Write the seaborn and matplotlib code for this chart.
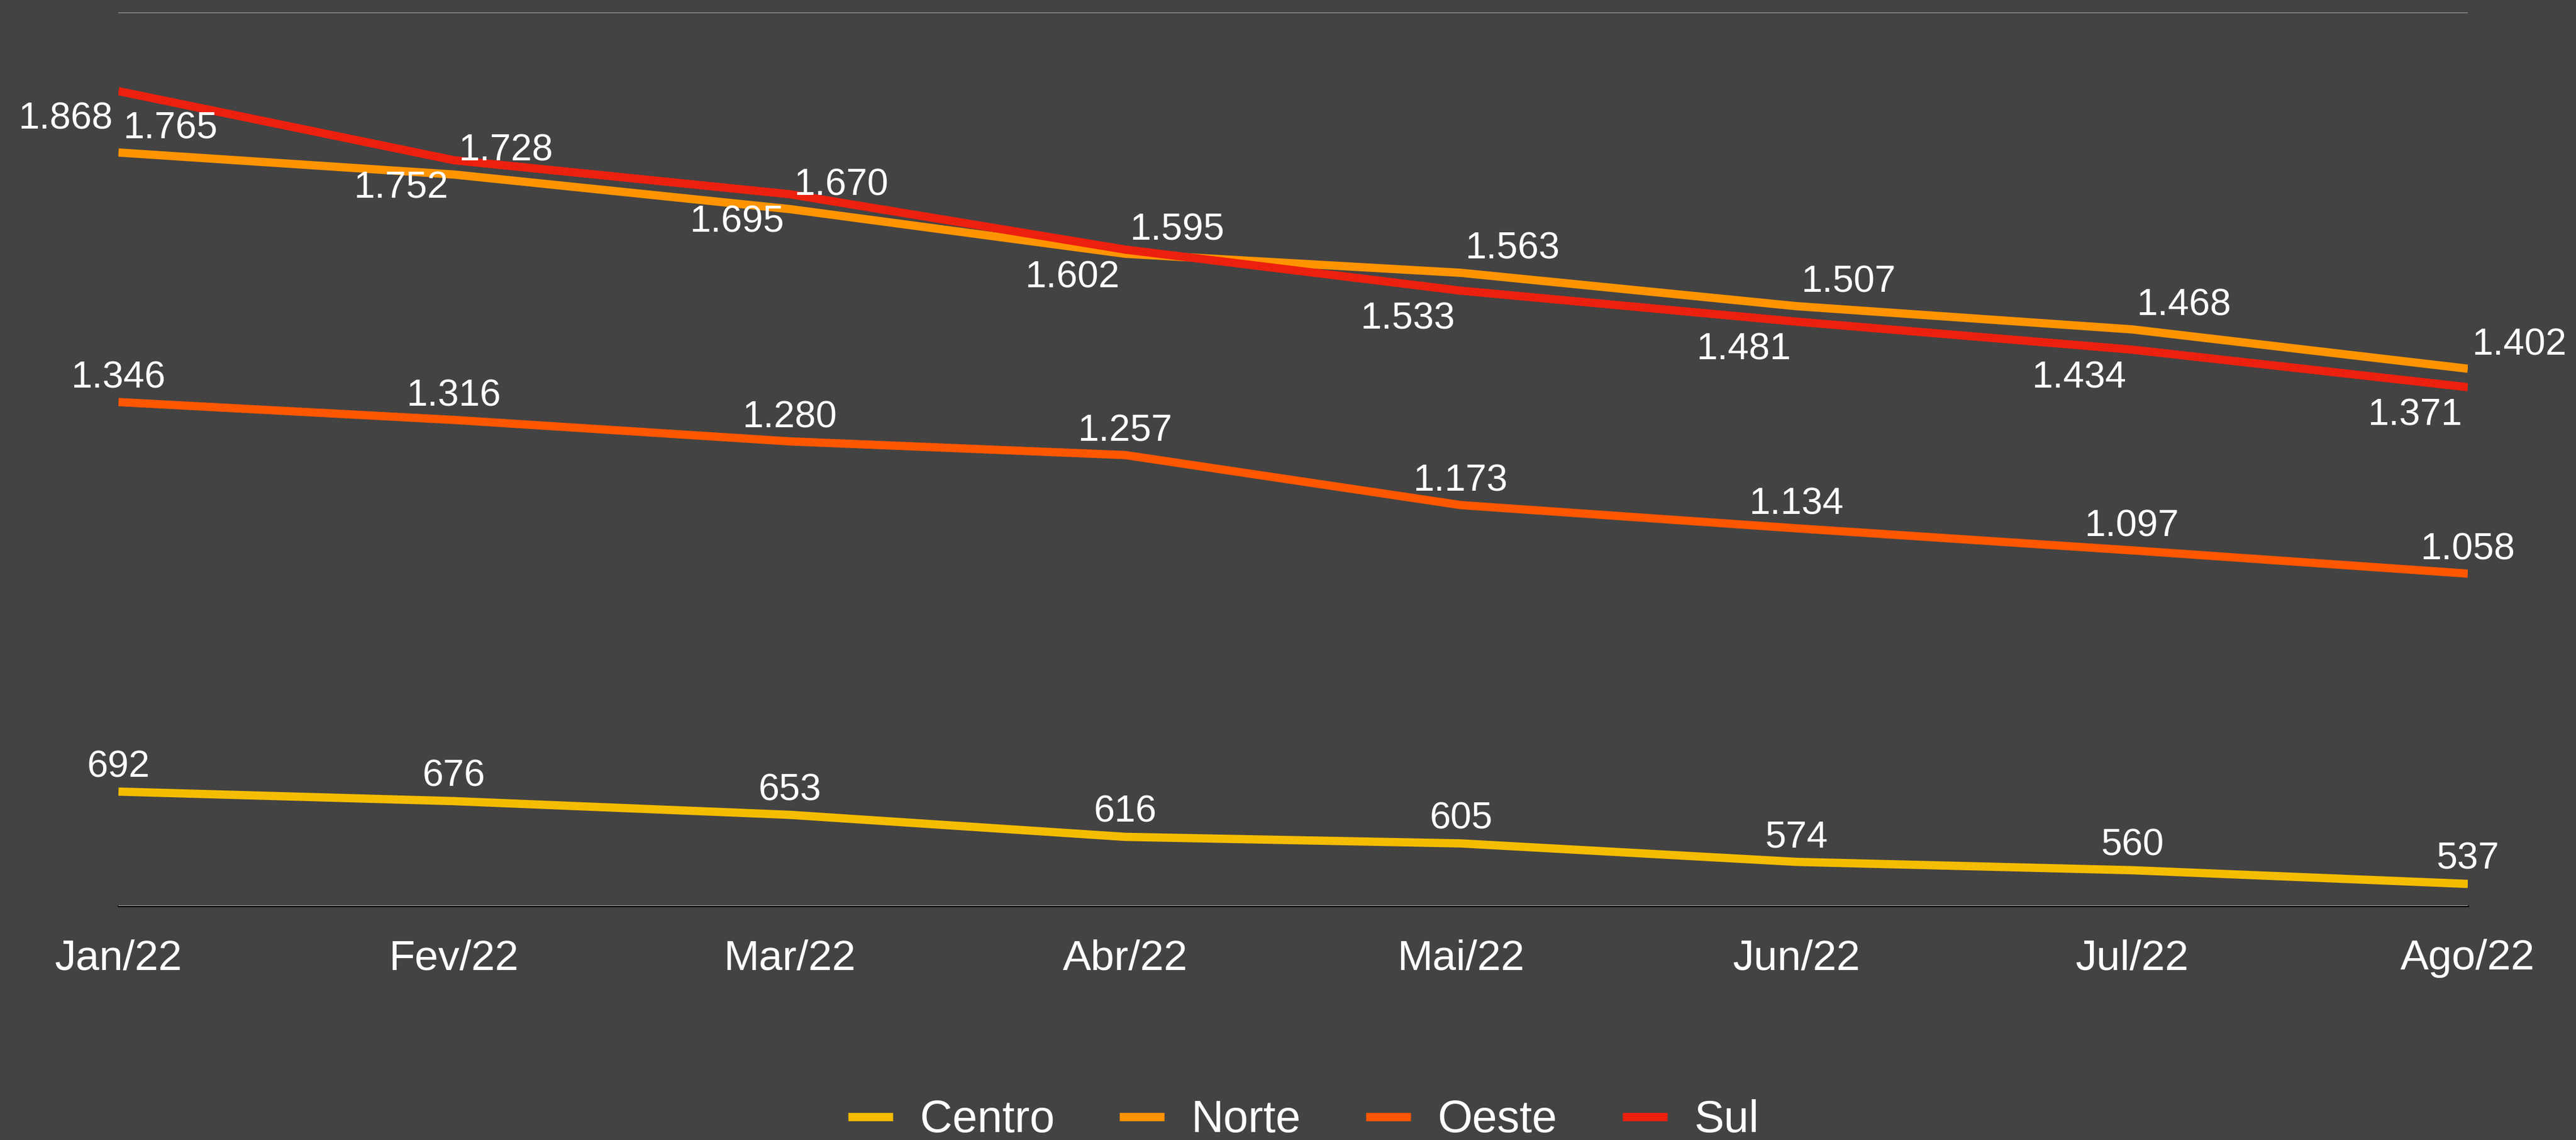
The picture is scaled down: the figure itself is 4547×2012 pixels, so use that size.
"""
Evolução mensal por região · Jan/22 a Ago/22
"""
import numpy as np
import pandas as pd
import matplotlib
matplotlib.use("Agg")
import matplotlib.pyplot as plt
import seaborn as sns

# ── Data ──────────────────────────────────────────────────────────────────────
MONTHS = ["Jan/22", "Fev/22", "Mar/22", "Abr/22", "Mai/22", "Jun/22", "Jul/22", "Ago/22"]
CENTRO = [692, 676, 653, 616, 605, 574, 560, 537]
NORTE = [1765, 1728, 1670, 1595, 1563, 1507, 1468, 1402]
OESTE = [1346, 1316, 1280, 1257, 1173, 1134, 1097, 1058]
SUL = [1868, 1752, 1695, 1602, 1533, 1481, 1434, 1371]
REGIONS = ["Centro", "Norte", "Oeste", "Sul"]

# ── Style ─────────────────────────────────────────────────────────────────────
BG = "#434343"
PALETTE = {"Centro": "#F5BD00", "Norte": "#FF9400", "Oeste": "#FF5600", "Sul": "#EC200E"}

sns.set_theme(style="dark", rc={
    "axes.facecolor": BG,
    "figure.facecolor": BG,
    "axes.edgecolor": BG,
})
plt.rcParams["font.family"] = ["Liberation Sans", "DejaVu Sans"]


def fmt(v):
    # Brazilian thousands separator
    return f"{v:,}".replace(",", ".")


def main():
    df = pd.DataFrame({
        "mes": MONTHS * 4,
        "pos": list(range(len(MONTHS))) * 4,
        "regiao": np.repeat(REGIONS, len(MONTHS)),
        "valor": CENTRO + NORTE + OESTE + SUL,
    })

    fig, ax = plt.subplots(figsize=(45.47, 20.12), dpi=100)
    fig.subplots_adjust(left=0.046, right=0.958, bottom=0.2053, top=0.989)

    sns.lineplot(data=df, x="pos", y="valor", hue="regiao", hue_order=REGIONS,
                 palette=PALETTE, linewidth=10.5, ax=ax, legend=False,
                 solid_capstyle="butt")

    # value labels: Norte above-right, Sul below-left, the rest centred above
    offsets = {
        "Centro": ((0, 31), "center"),
        "Oeste": ((0, 30), "center"),
        "Norte": ((6, 30), "left"),
        "Sul": ((-7, -36), "right"),
    }
    for region in REGIONS:
        (dx, dy), ha = offsets[region]
        sub = df[df["regiao"] == region]
        for x, v in zip(sub["pos"], sub["valor"]):
            ax.annotate(fmt(v), (x, v), xytext=(dx, dy), textcoords="offset points",
                        ha=ha, va="center", color="white", fontsize=48)

    ax.set_xlim(0, len(MONTHS) - 1)
    ax.set_ylim(500, 2000)
    ax.set_xticks(range(len(MONTHS)))
    ax.set_xticklabels(MONTHS)
    ax.set_yticks([500, 2000])
    ax.set_yticklabels([])
    ax.tick_params(axis="x", colors="white", labelsize=54, length=0, pad=42)
    ax.tick_params(axis="y", length=0)
    ax.set_xlabel("")
    ax.set_ylabel("")
    ax.grid(axis="y", color="#A8A8A8", linewidth=1.6)
    ax.grid(axis="x", visible=False)
    ax.set_axisbelow(True)
    for side in ("top", "left", "right"):
        ax.spines[side].set_visible(False)
    ax.spines["bottom"].set_color("black")
    ax.spines["bottom"].set_linewidth(2.2)
    ax.spines["bottom"].set_zorder(0.5)

    handles = [plt.Line2D([], [], color=PALETTE[r], linewidth=10.5, solid_capstyle="butt")
               for r in REGIONS]
    fig.legend(handles, REGIONS, loc="center", bbox_to_anchor=(0.506, 0.017), ncol=4,
               frameon=False, fontsize=57, labelcolor="white", handlelength=1.0,
               handletextpad=0.6, columnspacing=1.45)

    plt.savefig("out.png", dpi=100, facecolor=BG)
    plt.close()


if __name__ == "__main__":
    main()
